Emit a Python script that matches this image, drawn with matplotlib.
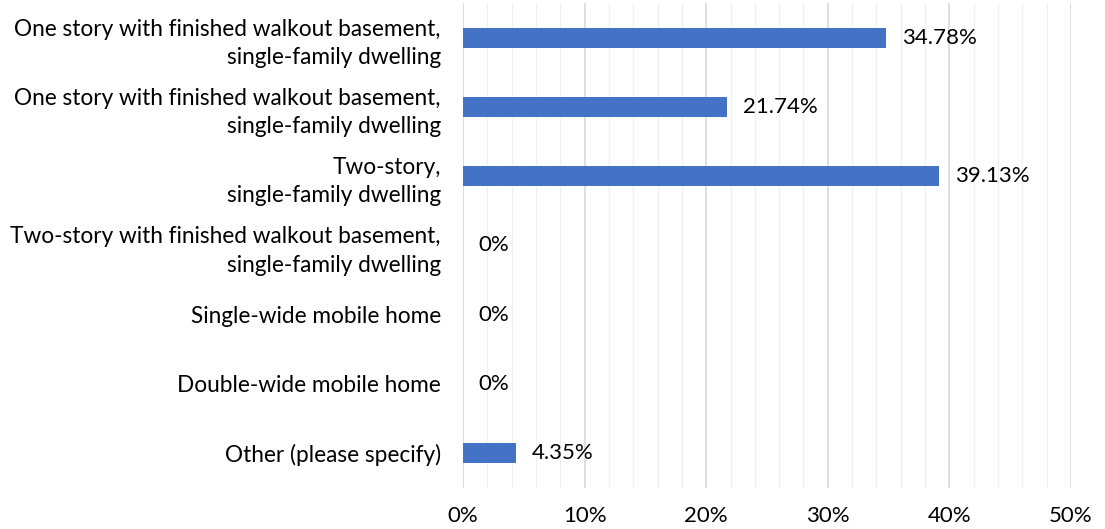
import numpy as np
import matplotlib
matplotlib.use("Agg")
from matplotlib import pyplot as plt
from matplotlib.ticker import MultipleLocator, FuncFormatter

plt.rcParams['font.family'] = ['Lato', 'DejaVu Sans']

categories = [
    "One story with finished walkout basement,\nsingle-family dwelling",
    "One story with finished walkout basement,\nsingle-family dwelling",
    "Two-story,\nsingle-family dwelling",
    "Two-story with finished walkout basement,\nsingle-family dwelling",
    "Single-wide mobile home",
    "Double-wide mobile home",
    "Other (please specify)",
]
values = [34.78, 21.74, 39.13, 0, 0, 0, 4.35]
value_labels = ["34.78%", "21.74%", "39.13%", "0%", "0%", "0%", "4.35%"]

fig = plt.figure(figsize=(11.05, 5.29), dpi=100)
ax = fig.add_axes([0.419, 0.0783, 0.5502, 0.9153])

y = np.arange(len(categories))
ax.barh(y, values, height=0.29, color="#4472C4", zorder=3)

for yi, v, lab in zip(y, values, value_labels):
    ax.text(v + 1.3, yi, lab, va="center", ha="left", fontsize=16, color="#000000")

ax.set_xlim(0, 50)
ax.set_ylim(len(categories) - 0.5, -0.5)
ax.set_yticks(y)
ax.set_yticklabels(categories, fontsize=16.3, linespacing=1.42, ha="right")
ax.xaxis.set_major_locator(MultipleLocator(10))
ax.xaxis.set_minor_locator(MultipleLocator(2))
ax.xaxis.set_major_formatter(FuncFormatter(lambda x, p: "{:.0f}%".format(x)))
ax.tick_params(axis="x", labelsize=16, length=0, pad=13, which="both")
ax.tick_params(axis="y", length=0, pad=16)

ax.grid(axis="x", which="major", color="#D9D9D9", linewidth=1.2, zorder=0)
ax.grid(axis="x", which="minor", color="#F0F0F0", linewidth=1.0, zorder=0)
ax.grid(axis="y", visible=False)
for s in ax.spines.values():
    s.set_visible(False)

plt.savefig("out.png", dpi=100)
